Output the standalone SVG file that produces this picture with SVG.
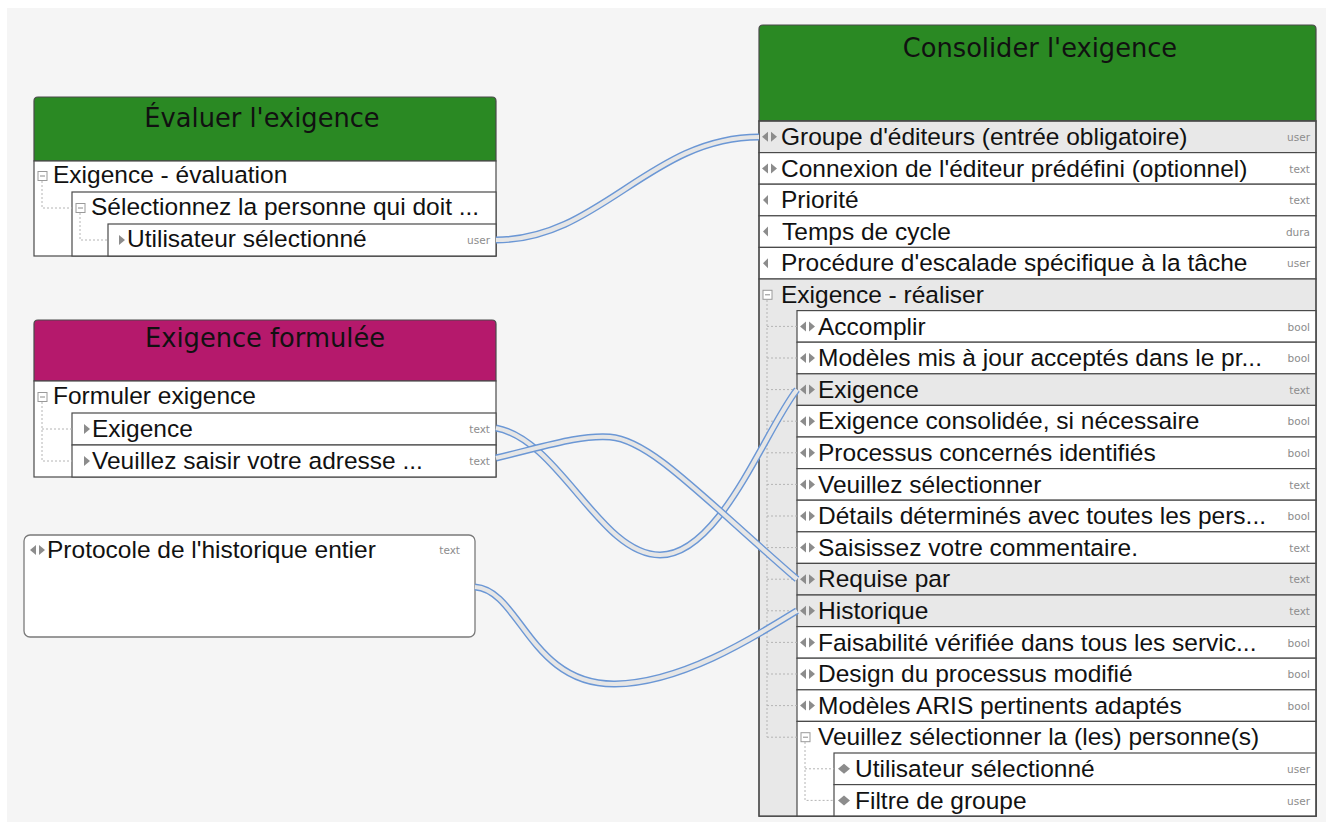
<svg xmlns="http://www.w3.org/2000/svg" width="1333" height="830" viewBox="0 0 1333 830">
<style>
.t{font-family:"Liberation Sans",Arial,sans-serif;font-size:24.5px;fill:#111}
.h{font-family:"DejaVu Sans",sans-serif;font-size:25.7px;fill:#111;text-anchor:middle}
.ty{font-family:"DejaVu Sans",sans-serif;font-size:10.5px;fill:#8c8c8c;text-anchor:end}
.row{fill:#fff;stroke:#4a4a4a;stroke-width:1.2}
.sel{fill:#e8e8e8;stroke:#4a4a4a;stroke-width:1.2}
.ic{fill:#8c8c8c}
.tree{stroke:#b4b4b4;stroke-width:1;stroke-dasharray:2 2;fill:none}
.box{fill:#fff;stroke:#9a9a9a;stroke-width:1}
.minus{stroke:#8c8c8c;stroke-width:1}
.edge{fill:none;stroke:#4a4a4a;stroke-width:1.2}
.c1{fill:none;stroke:#6b97d5;stroke-width:7}
.c2{fill:none;stroke:#e6e6e6;stroke-width:4.2}
</style>
<defs>
<g id="both"><polygon points="0,0 6,-5 6,5"/><polygon points="9,-5 15,0 9,5"/></g>
<g id="lt"><polygon points="0,0 5,-5 5,5"/></g>
<g id="rt"><polygon points="0,-5 6,0 0,5"/></g>
<g id="dia"><polygon points="0,0 6,-5 12,0 6,5"/></g>
<g id="col"><rect class="box" x="0" y="-4.5" width="9" height="9"/><line class="minus" x1="2" y1="0" x2="7" y2="0"/></g>
</defs>
<rect x="0" y="0" width="1333" height="830" fill="#ffffff"/>
<rect x="7" y="8" width="1319" height="814" fill="#f5f5f5"/>

<g id="node-evaluer">
<path d="M34,161 V101 Q34,97 38,97 H492 Q496,97 496,101 V161 Z" fill="#2a8923" stroke="#4a4a4a" stroke-width="1.2"/>
<text class="h" x="262" y="127">Évaluer l'exigence</text>
<rect class="row" x="34" y="161" width="462" height="95"/>
<rect class="row" x="72" y="192" width="424" height="64"/>
<rect class="row" x="108" y="224" width="388" height="32"/>
<path class="tree" d="M42,181 V208 H72 M80,213 V240 H108"/>
<use href="#col" x="38" y="176"/>
<text class="t" x="53" y="183">Exigence - évaluation</text>
<use href="#col" x="76" y="208"/>
<text class="t" x="91" y="215">Sélectionnez la personne qui doit ...</text>
<use href="#rt" class="ic" x="119" y="240"/>
<text class="t" x="127" y="247">Utilisateur sélectionné</text>
<text class="ty" x="490" y="244">user</text>
</g>

<g id="node-formulee">
<path d="M34,381 V324 Q34,320 38,320 H492 Q496,320 496,324 V381 Z" fill="#b5196c" stroke="#4a4a4a" stroke-width="1.2"/>
<text class="h" x="265" y="347">Exigence formulée</text>
<rect class="row" x="34" y="381" width="462" height="96"/>
<rect class="row" x="72" y="413" width="424" height="32"/>
<rect class="row" x="72" y="445" width="424" height="32"/>
<path class="tree" d="M42,402 V461 H72 M42,429 H72"/>
<use href="#col" x="38" y="397"/>
<text class="t" x="53" y="404">Formuler exigence</text>
<use href="#rt" class="ic" x="84" y="429"/>
<text class="t" x="92" y="437">Exigence</text>
<text class="ty" x="490" y="433">text</text>
<use href="#rt" class="ic" x="84" y="461"/>
<text class="t" x="92" y="469">Veuillez saisir votre adresse ...</text>
<text class="ty" x="490" y="465">text</text>
</g>

<g id="node-protocole">
<rect x="24" y="535" width="451" height="102" rx="6" ry="6" fill="#ffffff" stroke="#7a7a7a" stroke-width="1.3"/>
<use href="#both" class="ic" x="30" y="550"/>
<text class="t" x="47" y="558">Protocole de l'historique entier</text>
<text class="ty" x="460" y="554">text</text>
</g>

<g id="node-consolider">
<path d="M759,121 V29 Q759,25 763,25 H1312 Q1316,25 1316,29 V121 Z" fill="#2a8923" stroke="#4a4a4a" stroke-width="1.2"/>
<text class="h" x="1040" y="57">Consolider l'exigence</text>
<rect class="sel" x="759" y="121" width="557" height="31.6"/>
<rect class="row" x="759" y="152.6" width="557" height="31.6"/>
<rect class="row" x="759" y="184.2" width="557" height="31.6"/>
<rect class="row" x="759" y="215.8" width="557" height="31.6"/>
<rect class="row" x="759" y="247.4" width="557" height="31.6"/>
<rect class="sel" x="759" y="279" width="557" height="537.2"/>
<rect class="row" x="797" y="310.6" width="519" height="31.6"/>
<rect class="row" x="797" y="342.2" width="519" height="31.6"/>
<rect class="sel" x="797" y="373.8" width="519" height="31.6"/>
<rect class="row" x="797" y="405.4" width="519" height="31.6"/>
<rect class="row" x="797" y="437" width="519" height="31.6"/>
<rect class="row" x="797" y="468.6" width="519" height="31.6"/>
<rect class="row" x="797" y="500.2" width="519" height="31.6"/>
<rect class="row" x="797" y="531.8" width="519" height="31.6"/>
<rect class="sel" x="797" y="563.4" width="519" height="31.6"/>
<rect class="sel" x="797" y="595" width="519" height="31.6"/>
<rect class="row" x="797" y="626.6" width="519" height="31.6"/>
<rect class="row" x="797" y="658.2" width="519" height="31.6"/>
<rect class="row" x="797" y="689.8" width="519" height="31.6"/>
<rect class="row" x="797" y="721.4" width="519" height="94.8"/>
<rect class="row" x="834" y="753" width="482" height="31.6"/>
<rect class="row" x="834" y="784.6" width="482" height="31.6"/>
<path class="tree" d="M767,300 V737.2 M767,326.4 H797 M767,358 H797 M767,389.6 H797 M767,421.2 H797 M767,452.8 H797 M767,484.4 H797 M767,516 H797 M767,547.6 H797 M767,579.2 H797 M767,610.8 H797 M767,642.4 H797 M767,674 H797 M767,705.6 H797 M767,737.2 H797 M805,742 V800.4 H834 M805,768.8 H834"/>

<use href="#both" class="ic" x="762" y="136.8"/>
<text class="t" x="781" y="145">Groupe d'éditeurs (entrée obligatoire)</text>
<text class="ty" x="1310" y="141">user</text>
<use href="#both" class="ic" x="762" y="168.4"/>
<text class="t" x="781" y="176.6">Connexion de l'éditeur prédéfini (optionnel)</text>
<text class="ty" x="1310" y="172.6">text</text>
<use href="#lt" class="ic" x="763" y="200"/>
<text class="t" x="781" y="208.2">Priorité</text>
<text class="ty" x="1310" y="204.2">text</text>
<use href="#lt" class="ic" x="763" y="231.6"/>
<text class="t" x="782" y="239.8">Temps de cycle</text>
<text class="ty" x="1310" y="235.8">dura</text>
<use href="#lt" class="ic" x="763" y="263.2"/>
<text class="t" x="781" y="271.4">Procédure d'escalade spécifique à la tâche</text>
<text class="ty" x="1310" y="267.4">user</text>
<use href="#col" x="763" y="294.8"/>
<text class="t" x="781" y="303">Exigence - réaliser</text>

<use href="#both" class="ic" x="800" y="326.4"/>
<text class="t" x="818" y="334.6">Accomplir</text>
<text class="ty" x="1310" y="330.6">bool</text>
<use href="#both" class="ic" x="800" y="358"/>
<text class="t" x="818" y="366.2">Modèles mis à jour acceptés dans le pr...</text>
<text class="ty" x="1310" y="362.2">bool</text>
<use href="#both" class="ic" x="800" y="389.6"/>
<text class="t" x="818" y="397.8">Exigence</text>
<text class="ty" x="1310" y="393.8">text</text>
<use href="#both" class="ic" x="800" y="421.2"/>
<text class="t" x="818" y="429.4">Exigence consolidée, si nécessaire</text>
<text class="ty" x="1310" y="425.4">bool</text>
<use href="#both" class="ic" x="800" y="452.8"/>
<text class="t" x="818" y="461">Processus concernés identifiés</text>
<text class="ty" x="1310" y="457">bool</text>
<use href="#both" class="ic" x="800" y="484.4"/>
<text class="t" x="818" y="492.6">Veuillez sélectionner</text>
<text class="ty" x="1310" y="488.6">text</text>
<use href="#both" class="ic" x="800" y="516"/>
<text class="t" x="818" y="524.2">Détails déterminés avec toutes les pers...</text>
<text class="ty" x="1310" y="520.2">bool</text>
<use href="#both" class="ic" x="800" y="547.6"/>
<text class="t" x="818" y="555.8">Saisissez votre commentaire.</text>
<text class="ty" x="1310" y="551.8">text</text>
<use href="#both" class="ic" x="800" y="579.2"/>
<text class="t" x="818" y="587.4">Requise par</text>
<text class="ty" x="1310" y="583.4">text</text>
<use href="#both" class="ic" x="800" y="610.8"/>
<text class="t" x="818" y="619">Historique</text>
<text class="ty" x="1310" y="615">text</text>
<use href="#both" class="ic" x="800" y="642.4"/>
<text class="t" x="818" y="650.6">Faisabilité vérifiée dans tous les servic...</text>
<text class="ty" x="1310" y="646.6">bool</text>
<use href="#both" class="ic" x="800" y="674"/>
<text class="t" x="818" y="682.2">Design du processus modifié</text>
<text class="ty" x="1310" y="678.2">bool</text>
<use href="#both" class="ic" x="800" y="705.6"/>
<text class="t" x="818" y="713.8">Modèles ARIS pertinents adaptés</text>
<text class="ty" x="1310" y="709.8">bool</text>
<use href="#col" x="801" y="737.2"/>
<text class="t" x="818" y="745.4">Veuillez sélectionner la (les) personne(s)</text>
<use href="#dia" class="ic" x="838" y="768.8"/>
<text class="t" x="855" y="777">Utilisateur sélectionné</text>
<text class="ty" x="1310" y="773">user</text>
<use href="#dia" class="ic" x="838" y="800.4"/>
<text class="t" x="855" y="808.6">Filtre de groupe</text>
<text class="ty" x="1310" y="804.6">user</text>
<rect class="edge" x="759" y="121" width="557" height="695.2"/>
</g>

<g id="connectors">
<path class="c1" d="M496,240 C600,240 650,137 759,137"/>
<path class="c2" d="M496,240 C600,240 650,137 759,137"/>
<path class="c1" d="M496,428 C560,440 600,555 660,555 C720,555 765,430 797,389.6"/>
<path class="c2" d="M496,428 C560,440 600,555 660,555 C720,555 765,430 797,389.6"/>
<path class="c1" d="M496,458 C550,445 580,435 610,437 C650,440 700,495 797,579.2"/>
<path class="c2" d="M496,458 C550,445 580,435 610,437 C650,440 700,495 797,579.2"/>
<path class="c1" d="M475,587 C520,590 530,685 615,684 C680,683 750,640 797,610.8"/>
<path class="c2" d="M475,587 C520,590 530,685 615,684 C680,683 750,640 797,610.8"/>
</g>
</svg>
